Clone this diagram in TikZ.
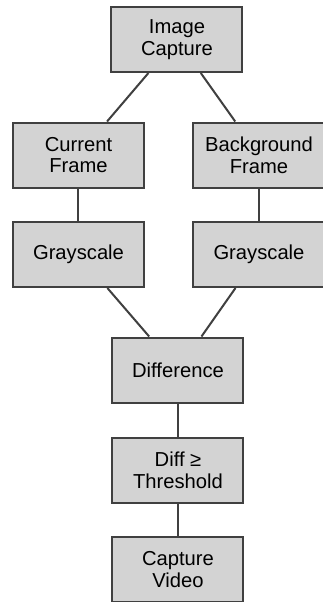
\documentclass[tikz,border=0pt]{standalone}
\usepackage{fontspec}
\setmainfont{Liberation Sans}
\definecolor{boxgray}{RGB}{211,211,211}
\definecolor{edgegray}{RGB}{64,64,64}

\begin{document}
\begin{tikzpicture}[x=0.5pt,y=-0.5pt,
  stage/.style={draw=edgegray,line width=1pt,fill=boxgray,
    minimum width=65.5pt,minimum height=32.5pt,inner sep=0pt,
    align=center,font=\fontsize{10.1pt}{10.9pt}\selectfont},
  link/.style={draw=edgegray,line width=1pt}]
\clip (0,0) rectangle (323,602);
\fill[white] (0,0) rectangle (323,602);
\node[stage] (capture) at (177,39.5) {Image\\Capture};
\node[stage] (current) at (78.5,155) {Current\\Frame};
\node[stage] (background) at (259,155) {Background\\Frame};
\node[stage] (grayl) at (78.5,254.5) {Grayscale};
\node[stage] (grayr) at (259,254.5) {Grayscale};
\node[stage] (diff) at (178,370) {Difference};
\node[stage] (thresh) at (178,470) {Diff ≥\\Threshold};
\node[stage] (video) at (178,569.5) {Capture\\Video};
\draw[link] (capture) -- (current);
\draw[link] (capture) -- (background);
\draw[link] (current) -- (grayl);
\draw[link] (background) -- (grayr);
\draw[link] (grayl) -- (diff);
\draw[link] (grayr) -- (diff);
\draw[link] (diff) -- (thresh);
\draw[link] (thresh) -- (video);
\end{tikzpicture}
\end{document}
